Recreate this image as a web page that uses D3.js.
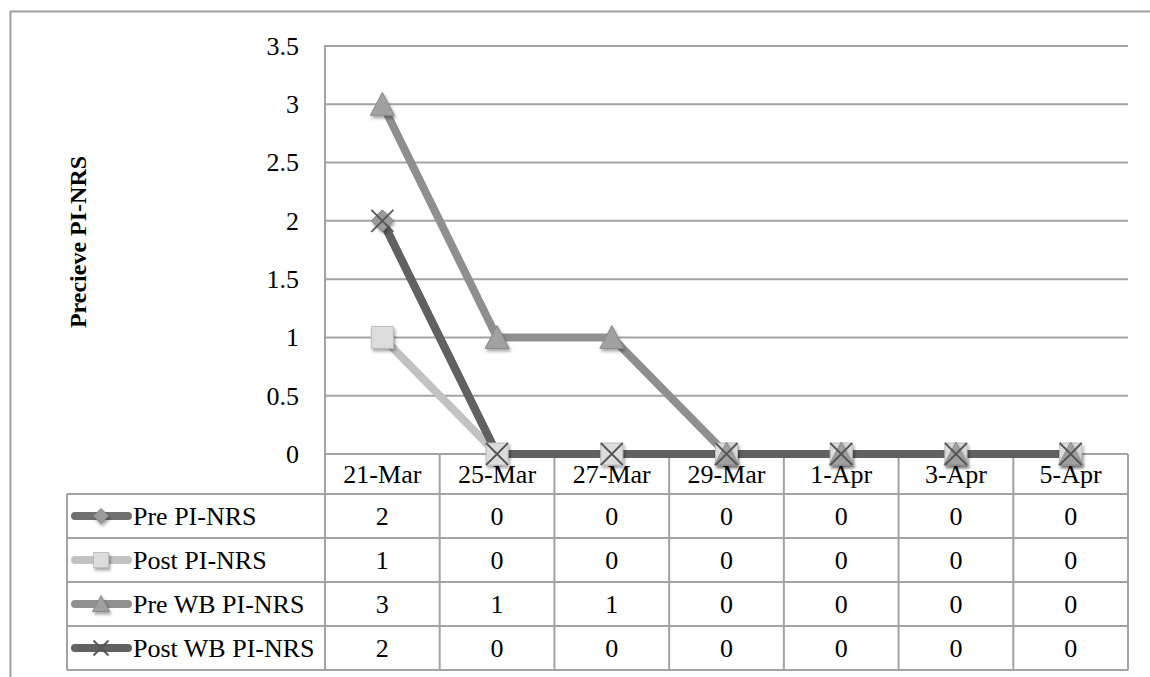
<!DOCTYPE html>
<html><head><meta charset="utf-8">
<script src="https://cdn.jsdelivr.net/npm/d3@7"></script>
<style>body{margin:0;background:#fff}svg{display:block}</style>
</head><body>
<svg id="c" width="1150" height="677"></svg>
<script>
const categories = ["21-Mar","25-Mar","27-Mar","29-Mar","1-Apr","3-Apr","5-Apr"];
const seriesNames = ["Pre PI-NRS","Post PI-NRS","Pre WB PI-NRS","Post WB PI-NRS"];
const prePI = [2,0,0,0,0,0,0];
const postPI = [1,0,0,0,0,0,0];
const preWB = [3,1,1,0,0,0,0];
const postWB = [2,0,0,0,0,0,0];
const yTicks = [0,0.5,1,1.5,2,2.5,3,3.5];
const yTitle = "Precieve PI-NRS";

const series = [
  {name: seriesNames[0], values: prePI, line:"#707070", fill:"#9a9a9a", stroke:"#808080", marker:"diamond"},
  {name: seriesNames[1], values: postPI, line:"#c2c2c2", fill:"#dcdcdc", stroke:"#bdbdbd", marker:"square"},
  {name: seriesNames[2], values: preWB, line:"#8f8f8f", fill:"#a0a0a0", stroke:"#8a8a8a", marker:"triangle"},
  {name: seriesNames[3], values: postWB, line:"#616161", fill:"none", stroke:"#555", marker:"x"}
];

const svg = d3.select("#c");
const font = "'Liberation Serif', 'Times New Roman', serif";
const gridCol = "#a3a3a3";
const L = 325, R = 1128, T = 46, B = 454;
const tableLeft = 67, headerBottom = 494, tableBottom = 670;

const defs = svg.append("defs");
const f = defs.append("filter").attr("id","sh").attr("x","-50%").attr("y","-50%").attr("width","200%").attr("height","200%");
f.append("feDropShadow").attr("dx",1.5).attr("dy",2.5).attr("stdDeviation",1.5).attr("flood-color","#000").attr("flood-opacity",0.35);

// outer border
svg.append("path").attr("d","M10.5,677 V11.5 H1150").attr("fill","none").attr("stroke","#a0a0a0").attr("stroke-width",2);

const x = d3.scaleBand().domain(categories).range([L, R]);
const y = d3.scaleLinear().domain([0, 3.5]).range([B, T]);

// gridlines
svg.append("g").selectAll("line").data(yTicks).join("line")
  .attr("x1", L).attr("x2", R).attr("y1", d => y(d)).attr("y2", d => y(d))
  .attr("stroke", gridCol).attr("stroke-width", 2);
svg.append("line").attr("x1",L).attr("x2",L).attr("y1",T-1).attr("y2",tableBottom).attr("stroke",gridCol).attr("stroke-width",2);

// y axis labels
const yAxis = d3.axisLeft(y).tickValues(yTicks).tickSize(0).tickPadding(26).tickFormat(d3.format("~g"));
const ya = svg.append("g").attr("transform",`translate(${L},0)`).call(yAxis);
ya.select(".domain").remove();
ya.selectAll("text").attr("font-family",font).attr("font-size",26).attr("fill","#000");

svg.append("text").attr("transform",`translate(86,242) rotate(-90)`).attr("text-anchor","middle")
  .attr("font-family",font).attr("font-weight","bold").attr("font-size",24).text(yTitle);

// table
const rowH = (tableBottom - headerBottom) / series.length;
const tg = svg.append("g");
tg.append("line").attr("x1",tableLeft).attr("x2",R).attr("y1",headerBottom).attr("y2",headerBottom).attr("stroke",gridCol).attr("stroke-width",2);
series.forEach((s,i)=>{
  const yy = headerBottom + (i+1)*rowH;
  tg.append("line").attr("x1",tableLeft).attr("x2",R).attr("y1",yy).attr("y2",yy).attr("stroke",gridCol).attr("stroke-width",2);
});
tg.append("line").attr("x1",tableLeft).attr("x2",tableLeft).attr("y1",headerBottom).attr("y2",tableBottom).attr("stroke",gridCol).attr("stroke-width",2);
categories.forEach(c=>{
  tg.append("line").attr("x1",x(c)+x.bandwidth()).attr("x2",x(c)+x.bandwidth()).attr("y1",B).attr("y2",tableBottom).attr("stroke",gridCol).attr("stroke-width",2);
});
tg.selectAll("text.hd").data(categories).join("text").attr("class","hd")
  .attr("x", d => x(d) + x.bandwidth()/2).attr("y", (B+headerBottom)/2 + 9)
  .attr("text-anchor","middle").attr("font-family",font).attr("font-size",26).text(d=>d);

function markerPath(type, size){
  const h = size/2;
  if(type==="diamond") return `M0,${-h} L${h},0 L0,${h} L${-h},0 Z`;
  if(type==="square") return `M${-h},${-h} H${h} V${h} H${-h} Z`;
  if(type==="triangle") return `M0,${-h-1} L${h+1},${h} L${-h-1},${h} Z`;
  return `M${-h},${-h} L${h},${h} M${h},${-h} L${-h},${h}`;
}
function drawMarker(g, s, cx, cy, size){
  const p = g.append("path").attr("d", markerPath(s.marker, size)).attr("transform",`translate(${cx},${cy})`);
  if(s.marker==="x"){
    p.attr("fill","none").attr("stroke","#555").attr("stroke-width",1.8);
  } else {
    p.attr("fill",s.fill).attr("stroke",s.stroke).attr("stroke-width",1).attr("filter","url(#sh)");
  }
}

series.forEach((s,i)=>{
  const cy = headerBottom + (i+0.5)*rowH;
  const lg = tg.append("g");
  lg.append("line").attr("x1",75).attr("x2",128).attr("y1",cy).attr("y2",cy)
    .attr("stroke",s.line).attr("stroke-width",8).attr("stroke-linecap","round");
  drawMarker(lg, s, 101, cy, 15);
  lg.append("text").attr("x",133).attr("y",cy+9).attr("font-family",font).attr("font-size",26).text(s.name);
  tg.selectAll(null).data(s.values).join("text")
    .attr("x",(d,j)=>x(categories[j])+x.bandwidth()/2).attr("y",cy+9)
    .attr("text-anchor","middle").attr("font-family",font).attr("font-size",26).text(d=>d);
});

const line = d3.line().x((d,i)=>x(categories[i])+x.bandwidth()/2).y(d=>y(d));
const lg = svg.append("g");
series.forEach(s=>{
  lg.append("path").attr("d", line(s.values)).attr("fill","none").attr("stroke",s.line)
    .attr("stroke-width",8).attr("stroke-linejoin","round");
});
series.forEach(s=>{
  const mg = svg.append("g");
  s.values.forEach((v,i)=>{
    drawMarker(mg, s, x(categories[i])+x.bandwidth()/2, y(v), 22);
  });
});
</script>
</body></html>
